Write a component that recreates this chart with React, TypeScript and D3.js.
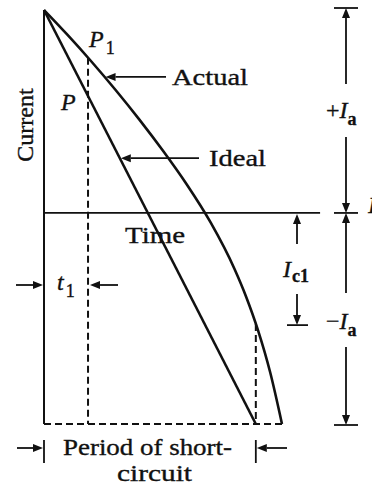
import React from "react";
import * as d3 from "d3";

// ---- data (time as fraction of the plotted span, current in units of Ia) ----
const actualTimes = [0, 0.1, 0.2, 0.3, 0.4, 0.5, 0.6, 0.7, 0.8, 0.85, 0.9, 0.95, 1.0];
const actualCurrents = [1, 0.876, 0.745, 0.607, 0.461, 0.306, 0.14, -0.047, -0.275, -0.415, -0.581, -0.784, -1.04];
const idealTimes = [0, 0.89];
const idealCurrents = [1, -1.04];
const t1 = 0.185;
const tShortEnd = 0.89;
const timeAxisEnd = 1.16;
const currentTop = 1;
const currentBottom = -1.04;
const actualLabelCurrent = 0.67;
const idealLabelCurrent = 0.27;

const W = 372;
const H = 495;
const FONT = "'Liberation Serif', 'Times New Roman', serif";

const x = d3.scaleLinear().domain([0, 1]).range([44, 282]);
const y = d3.scaleLinear().domain([currentBottom, currentTop]).range([424, 10]);

const actualData = actualTimes.map((t, i) => ({ t, c: actualCurrents[i] }));
const idealData = idealTimes.map((t, i) => ({ t, c: idealCurrents[i] }));

const lineGen = d3
  .line<{ t: number; c: number }>()
  .x((d) => x(d.t))
  .y((d) => y(d.c));
const curveGen = d3
  .line<{ t: number; c: number }>()
  .x((d) => x(d.t))
  .y((d) => y(d.c))
  .curve(d3.curveMonotoneX);

const actualAt = (t: number) => {
  for (let i = 1; i < actualData.length; i++) {
    if (t <= actualData[i].t) {
      const a = actualData[i - 1];
      const b = actualData[i];
      return a.c + ((t - a.t) / (b.t - a.t)) * (b.c - a.c);
    }
  }
  return actualData[actualData.length - 1].c;
};
const actualTimeAt = (c: number) => {
  for (let i = 1; i < actualData.length; i++) {
    if (c >= actualData[i].c) {
      const a = actualData[i - 1];
      const b = actualData[i];
      return a.t + ((c - a.c) / (b.c - a.c)) * (b.t - a.t);
    }
  }
  return 1;
};
const idealTimeAt = (c: number) =>
  ((c - idealCurrents[0]) / (idealCurrents[1] - idealCurrents[0])) * idealTimes[1];

function Arrow({
  x1,
  y1,
  x2,
  y2,
  head = 10,
  half = 4,
  sw = 1.8,
}: {
  x1: number;
  y1: number;
  x2: number;
  y2: number;
  head?: number;
  half?: number;
  sw?: number;
}) {
  const dx = x2 - x1;
  const dy = y2 - y1;
  const len = Math.hypot(dx, dy);
  const ux = dx / len;
  const uy = dy / len;
  const bx = x2 - ux * head;
  const by = y2 - uy * head;
  const px = -uy * half;
  const py = ux * half;
  return (
    <g>
      <line x1={x1} y1={y1} x2={bx} y2={by} stroke="#111" strokeWidth={sw} />
      <polygon
        points={`${x2},${y2} ${bx + px},${by + py} ${bx - px},${by - py}`}
        fill="#111"
      />
    </g>
  );
}

export default function App() {
  const x0 = x(0);
  const y0 = y(0);
  const yTop = y(currentTop);
  const yBot = y(currentBottom);
  const xt1 = x(t1);
  const xEnd = x(tShortEnd);
  const yIc1 = y(actualAt(tShortEnd));
  const yP1 = y(actualAt(t1));
  const yActLab = y(actualLabelCurrent);
  const xActTarget = x(actualTimeAt(actualLabelCurrent));
  const yIdLab = y(idealLabelCurrent);
  const xIdTarget = x(idealTimeAt(idealLabelCurrent));
  const xRight = 346;
  const dash = "7 4";
  const textStyle = {
    fontFamily: FONT,
    fill: "#111",
    stroke: "#111",
    strokeWidth: 0.35,
  } as React.CSSProperties;

  return (
    <svg
      width={W}
      height={H}
      viewBox={`0 0 ${W} ${H}`}
      style={{ position: "absolute", left: 0, top: 0, background: "#fff" }}
    >
      <rect x={0} y={0} width={W} height={H} fill="#fff" />

      {/* axes */}
      <line x1={x0} y1={yTop} x2={x0} y2={yBot} stroke="#111" strokeWidth={2} />
      <line x1={x0} y1={y0} x2={x(timeAxisEnd)} y2={y0} stroke="#111" strokeWidth={1.8} />

      {/* dashed lines */}
      <line x1={x0} y1={yBot} x2={x(1)} y2={yBot} stroke="#111" strokeWidth={2} strokeDasharray={dash} />
      <line x1={xt1} y1={yP1} x2={xt1} y2={yBot} stroke="#111" strokeWidth={2} strokeDasharray={dash} />
      <line x1={xEnd} y1={yIc1} x2={xEnd} y2={yBot} stroke="#111" strokeWidth={2} strokeDasharray={dash} />

      {/* curves */}
      <path d={lineGen(idealData) || ""} fill="none" stroke="#111" strokeWidth={2.6} />
      <path d={curveGen(actualData) || ""} fill="none" stroke="#111" strokeWidth={2.6} />

      {/* labels: Actual / Ideal */}
      <Arrow x1={166} y1={yActLab} x2={xActTarget + 1} y2={yActLab} />
      <text x={172} y={yActLab + 8} fontSize={24} textLength={76} lengthAdjust="spacingAndGlyphs" style={textStyle}>
        Actual
      </text>
      <Arrow x1={199} y1={yIdLab} x2={xIdTarget + 1} y2={yIdLab} />
      <text x={209} y={yIdLab + 8} fontSize={24} textLength={57} lengthAdjust="spacingAndGlyphs" style={textStyle}>
        Ideal
      </text>

      {/* P1 and P */}
      <text x={89} y={47} fontSize={24} style={{ ...textStyle, fontStyle: "italic" }}>
        P
        <tspan fontSize={18} fontStyle="normal" dx={2} dy={7}>
          1
        </tspan>
      </text>
      <text x={61} y={110} fontSize={24} style={{ ...textStyle, fontStyle: "italic" }}>
        P
      </text>

      {/* Current / Time */}
      <text
        transform={`translate(33,${(90 + 160) / 2}) rotate(-90)`}
        textAnchor="middle"
        fontSize={24}
        style={textStyle}
      >
        Current
      </text>
      <text x={125} y={243} fontSize={24} textLength={60} lengthAdjust="spacingAndGlyphs" style={textStyle}>
        Time
      </text>

      {/* t1 */}
      <Arrow x1={16} y1={285} x2={x0 - 1} y2={285} />
      <Arrow x1={118} y1={285} x2={xt1 + 2} y2={285} />
      <text x={57} y={290} fontSize={24} style={{ ...textStyle, fontStyle: "italic" }}>
        t
        <tspan fontSize={18} fontStyle="normal" dx={2} dy={7}>
          1
        </tspan>
      </text>

      {/* Ic1 */}
      <Arrow x1={297} y1={244} x2={297} y2={y0 + 1} />
      <text x={283} y={277} fontSize={24} style={{ ...textStyle, fontStyle: "italic" }}>
        I
        <tspan fontSize={18} fontStyle="normal" fontWeight="bold" dx={1} dy={5}>
          c1
        </tspan>
      </text>
      <Arrow x1={297} y1={294} x2={297} y2={yIc1 + 1} />
      <line x1={287} y1={yIc1 + 1} x2={308} y2={yIc1 + 1} stroke="#111" strokeWidth={1.8} />

      {/* +Ia / -Ia */}
      <line x1={334} y1={yTop - 2} x2={358} y2={yTop - 2} stroke="#111" strokeWidth={1.8} />
      <Arrow x1={xRight} y1={84} x2={xRight} y2={yTop - 2} />
      <text x={326} y={118} fontSize={24} style={textStyle}>
        +
        <tspan fontStyle="italic">I</tspan>
        <tspan fontSize={18} fontWeight="bold" dy={7}>
          a
        </tspan>
      </text>
      <Arrow x1={xRight} y1={137} x2={xRight} y2={y0} />
      <line x1={334} y1={y0} x2={358} y2={y0} stroke="#111" strokeWidth={1.8} />
      <Arrow x1={xRight} y1={293} x2={xRight} y2={y0} />
      <text x={326} y={329} fontSize={24} style={textStyle}>
        −
        <tspan fontStyle="italic">I</tspan>
        <tspan fontSize={18} fontWeight="bold" dy={7}>
          a
        </tspan>
      </text>
      <Arrow x1={xRight} y1={347} x2={xRight} y2={yBot + 1} />
      <line x1={334} y1={yBot + 1} x2={358} y2={yBot + 1} stroke="#111" strokeWidth={1.8} />

      {/* cropped glyph at the right edge */}
      <text x={368} y={213} fontSize={24} style={{ ...textStyle, fontStyle: "italic" }}>
        I
      </text>

      {/* Period of short-circuit */}
      <line x1={x0} y1={440} x2={x0} y2={463} stroke="#111" strokeWidth={1.8} />
      <Arrow x1={17} y1={448} x2={x0 - 1} y2={448} />
      <line x1={xEnd} y1={440} x2={xEnd} y2={463} stroke="#111" strokeWidth={1.8} />
      <Arrow x1={287} y1={448} x2={xEnd + 1} y2={448} />
      <text x={63} y={455} fontSize={24} textLength={169} lengthAdjust="spacingAndGlyphs" style={textStyle}>
        Period of short-
      </text>
      <text x={117} y={481} fontSize={24} textLength={75} lengthAdjust="spacingAndGlyphs" style={textStyle}>
        circuit
      </text>
    </svg>
  );
}
